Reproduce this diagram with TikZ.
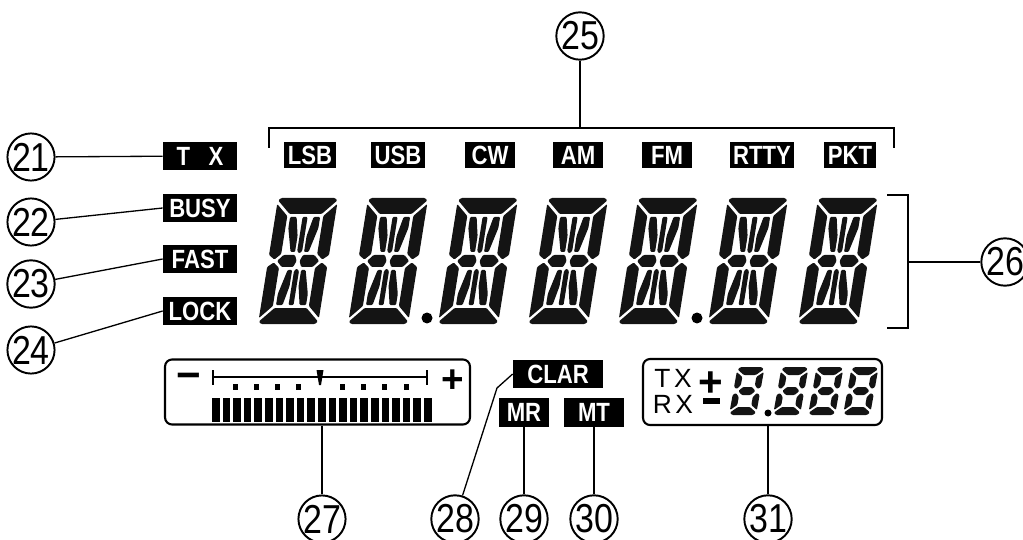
\documentclass[tikz,border=0pt]{standalone}
\usepackage{fontspec}
\setmainfont{Liberation Sans}
\newfontfamily\tagfont[FakeStretch=0.84]{Liberation Sans}
\usetikzlibrary{positioning,calc}
\tikzset{
	lcdtag/.style={fill=black, text=white, inner xsep=2pt, inner ysep=0pt,
		minimum height=0.54cm, font=\tagfont\bfseries\fontsize{15}{15}\selectfont},
	sidetag/.style={lcdtag, minimum width=1.48cm, minimum height=0.56cm},
	callout/.style={draw, circle, line width=1.1pt, inner sep=0pt,
		minimum size=0.92cm, font=\tagfont\fontsize{23}{23}\selectfont},
	leader/.style={line width=0.75pt},
	panel/.style={draw, rounded corners=4pt, line width=1.2pt},
	seg/.style={fill=black!92, rounded corners=0.6pt}
}

% one 14-segment digit, local units, y up, 60 x 126
\newcommand{\bigdigit}{%
	\fill[seg]
	(3,126) -- (57,126) -- (59.5,123.5) -- (46,110) -- (14,110) -- (0.5,123.5) -- cycle
	(3,0) -- (57,0) -- (59.5,2.5) -- (46,16) -- (14,16) -- (0.5,2.5) -- cycle
	(0,120) -- (12,108) -- (12,70) -- (6,64.5) -- (0,69) -- cycle
	(60,120) -- (48,108) -- (48,70) -- (54,64.5) -- (60,69) -- cycle
	(0,6) -- (12,18) -- (12,56) -- (6,61.5) -- (0,57) -- cycle
	(60,6) -- (48,18) -- (48,56) -- (54,61.5) -- (60,57) -- cycle
	(9,63) -- (14.5,69) -- (26,69) -- (28.5,63) -- (26,57) -- (14.5,57) -- cycle
	(51,63) -- (45.5,69) -- (34,69) -- (31.5,63) -- (34,57) -- (45.5,57) -- cycle
	(27.5,107) -- (32.5,107) -- (32.5,73) -- (30,70.5) -- (27.5,73) -- cycle
	(27.5,19) -- (32.5,19) -- (32.5,53) -- (30,55.5) -- (27.5,53) -- cycle
	(15,107) -- (21.5,107) -- (25.5,88) -- (25.5,72) -- (21,72) -- (15,96) -- cycle
	(45,107) -- (38.5,107) -- (34.5,88) -- (34.5,72) -- (39,72) -- (45,96) -- cycle
	(15,19) -- (21.5,19) -- (25.5,38) -- (25.5,54) -- (21,54) -- (15,30) -- cycle
	(45,19) -- (38.5,19) -- (34.5,38) -- (34.5,54) -- (39,54) -- (45,30) -- cycle;
}

% one 7-segment digit, local units, y up, 27 x 48
\newcommand{\smalldigit}{%
	\fill[seg]
	(3,48) -- (24,48) -- (26.5,45.5) -- (19.5,40) -- (7.5,40) -- (0.5,45.5) -- cycle
	(3,0) -- (24,0) -- (26.5,2.5) -- (19.5,8) -- (7.5,8) -- (0.5,2.5) -- cycle
	(5,24) -- (9,28) -- (18,28) -- (22,24) -- (18,20) -- (9,20) -- cycle
	(0,43) -- (6.5,38) -- (6.5,30) -- (3,26) -- (0,28) -- cycle
	(0,5) -- (6.5,10) -- (6.5,18) -- (3,22) -- (0,20) -- cycle
	(27,43) -- (20.5,38) -- (20.5,30) -- (24,26) -- (27,28) -- cycle
	(27,5) -- (20.5,10) -- (20.5,18) -- (24,22) -- (27,20) -- cycle;
}

\begin{document}
\begin{tikzpicture}[x=0.02cm, y=-0.02cm]
	\useasboundingbox (0,0) rectangle (1023,540);
	
	%% -- status tags (left)
	\node[sidetag] (tx) at (200,156) {T\hspace{0.7em}X};
	\node[sidetag] (busy) at (200,208) {BUSY};
	\node[sidetag] (fast) at (200,259) {FAST};
	\node[sidetag] (lock) at (200,311) {LOCK};
	
	\node[callout] (n21) at (31,157) {21};
	\node[callout] (n22) at (31,222) {22};
	\node[callout] (n23) at (31,284) {23};
	\node[callout] (n24) at (31,350) {24};
	
	\draw[leader] (n21) -- (tx);
	\draw[leader] (n22) -- (busy.west);
	\draw[leader] (n23) -- (fast.west);
	\draw[leader] (n24) -- (lock.west);
	
	%% -- mode tags
	\foreach \lbl/\xx in {LSB/310, USB/398, CW/490, AM/578, FM/667, RTTY/762, PKT/850}
	\node[lcdtag, minimum width=1.0cm] (m\lbl) at (\xx,155) {\lbl};
	
	\node[callout] (n25) at (580,36) {25};
	\coordinate (b25l) at (269,148);
	\coordinate (b25m) at (580,128);
	\coordinate (b25r) at (894,148);
	\draw[leader] (b25l) |- (b25m) -| (b25r);
	\draw[leader] (n25) -- (b25m);
	
	%% -- main frequency digits
	\foreach \i in {0,...,6}{
		\begin{scope}[shift={(258+90*\i,324)}, xslant=0.16, yscale=-1]
			\bigdigit
		\end{scope}
	}
	\fill (427,318) circle[radius=0.11cm];
	\fill (697,318) circle[radius=0.11cm];
	
	\coordinate (b26t) at (887,195);
	\coordinate (b26m) at (908,262);
	\coordinate (b26b) at (887,328);
	\draw[leader] (b26t) -| (b26m) |- (b26b);
	\node[callout] (n26) at (1005,262) {26};
	\draw[leader] (b26m) -- (n26);
	
	%% -- meter
	\node[panel, minimum width=6.1cm, minimum height=1.3cm] (meter) at (317.5,392) {};
	\node[font=\bfseries\fontsize{24}{24}\selectfont, inner sep=0pt] (mminus) at (189,381) {−};
	\node[font=\bfseries\fontsize{22}{22}\selectfont, inner sep=0pt] (mplus) at (453,381) {+};
	\draw[line width=1.2pt] (213,370) -- (213,385) (213,377) -- (427,377) (427,370) -- (427,385);
	\fill (316.5,370) -- (323.5,370) -- (321,385) -- (319,385) -- cycle;
	\foreach \x in {235,256,277,298,342,363,384,406}
	\fill (\x-2.5,384) rectangle (\x+2.5,390);
	\foreach \k in {0,...,20}
	\fill (212+10.6*\k,398) rectangle (219.5+10.6*\k,422);
	
	\node[callout] (n27) at (322,519) {27};
	\draw[leader] (n27 |- meter.south) -- (n27);
	
	%% -- clarifier and memory tags
	\node[lcdtag, minimum width=1.8cm, minimum height=0.58cm] (clar) at (558,374) {CLAR};
	\node[lcdtag, minimum width=1.0cm, minimum height=0.58cm] (mr) at (524,412) {MR};
	\node[lcdtag, minimum width=1.2cm, minimum height=0.58cm] (mt) at (594,412) {MT};
	
	\node[callout] (n28) at (455,519) {28};
	\node[callout] (n29) at (524,519) {29};
	\node[callout] (n30) at (594,519) {30};
	
	\coordinate (k28) at (497,388);
	\draw[leader] (clar.west) -- (k28) -- (n28);
	\draw[leader] (mr) -- (n29);
	\draw[leader] (mt) -- (n30);
	
	%% -- offset display
	\node[panel, minimum width=4.78cm, minimum height=1.32cm] (offset) at (762.5,392) {};
	\node[font=\fontsize{15}{15}\selectfont, inner sep=0pt] (txlbl) at (673,378) {T\hspace{2pt}X};
	\node[font=\fontsize{15}{15}\selectfont, inner sep=0pt] (rxlbl) at (673,404) {R\hspace{2pt}X};
	\node[font=\bfseries\fontsize{24}{24}\selectfont, inner sep=0pt] (oplus) at (711,384) {+};
	\fill (703,398) rectangle (720,404);
	\foreach \xx in {729,773,808,843}{
		\begin{scope}[shift={(\xx,415)}, xslant=0.18, yscale=-1]
			\smalldigit
		\end{scope}
	}
	\fill (768,413) circle[radius=0.07cm];
	
	\node[callout] (n31) at (768,519) {31};
	\draw[leader] (n31 |- offset.south) -- (n31);
	
\end{tikzpicture}
\end{document}
